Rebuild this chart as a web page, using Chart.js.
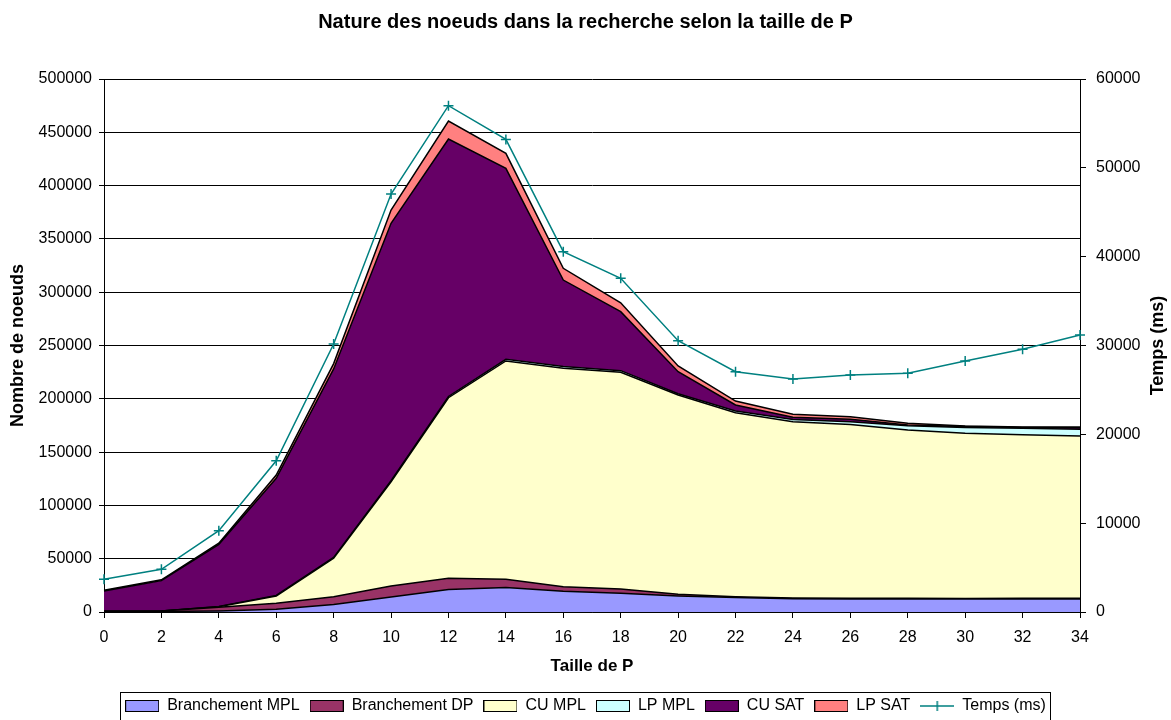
<!DOCTYPE html>
<html>
<head>
<meta charset="utf-8">
<script src="https://cdn.jsdelivr.net/npm/chart.js@4/dist/chart.umd.min.js"></script>
<style>
  body { margin: 0; background: #fff; }
  #wrap { width: 1171px; height: 720px; }
</style>
</head>
<body>
<div id="wrap"><canvas id="chart" width="1171" height="720"></canvas></div>
<script>
// Taille de P
const categories = ['0', '2', '4', '6', '8', '10', '12', '14', '16', '18', '20', '22', '24', '26', '28', '30', '32', '34'];

// nombre de noeuds (empiles)
const branchementMPL = [200, 500, 1000, 2500, 7000, 14000, 21000, 23000, 19500, 17500, 15000, 13500, 12500, 12300, 12200, 12200, 12300, 12300];
const branchementDP = [500, 500, 3400, 5700, 7400, 10400, 10600, 7700, 4200, 4100, 1600, 800, 600, 700, 600, 500, 500, 600];
const cuMPL = [0, 0, 600, 6800, 36000, 97800, 169400, 204800, 204900, 203300, 187000, 172700, 165400, 163000, 157900, 154900, 153500, 152200];
const lpMPL = [0, 0, 200, 500, 800, 1000, 1200, 1500, 1800, 1500, 1200, 1500, 2000, 2500, 4000, 5500, 6000, 6300];
const cuSAT = [19000, 28400, 58300, 109900, 176800, 241400, 241500, 179200, 81000, 55300, 20600, 5700, 2100, 2300, 800, 900, 700, 1400];
const lpSAT = [800, 800, 1000, 3100, 5000, 12500, 16900, 14100, 11000, 8400, 5400, 3700, 2900, 2400, 1500, 500, 600, 800];

// temps en ms (axe de droite)
const temps = [3680, 4800, 9150, 17030, 30170, 47050, 57000, 53200, 40560, 37560, 30540, 27050, 26230, 26680, 26870, 28250, 29570, 31180];

const leftTicks = { max: 500000, step: 50000 };
const rightTicks = { max: 60000, step: 10000 };

const FONT = "'Liberation Sans', Arial, sans-serif";
const teal = '#008080';

function area(label, data, color, fill) {
    return {
        label: label,
        data: data,
        backgroundColor: color,
        borderColor: '#000',
        borderWidth: 1.5,
        fill: fill,
        pointRadius: 0,
        pointHoverRadius: 0,
        tension: 0,
        yAxisID: 'y'
    };
}

// little pictures for the legend
function boxIcon(color) {
    const c = document.createElement('canvas');
    c.width = 34; c.height = 12;
    const g = c.getContext('2d');
    g.fillStyle = color;
    g.fillRect(1, 1, 32, 10);
    g.strokeStyle = '#000';
    g.lineWidth = 1;
    g.strokeRect(0.5, 0.5, 33, 11);
    return c;
}
function lineIcon(color) {
    const c = document.createElement('canvas');
    c.width = 34; c.height = 12;
    const g = c.getContext('2d');
    g.strokeStyle = color;
    g.lineWidth = 1.5;
    g.beginPath();
    g.moveTo(0, 6); g.lineTo(34, 6);
    g.moveTo(17, 1); g.lineTo(17, 11);
    g.stroke();
    return c;
}

const extras = {
    id: 'extras',
    afterDraw(chart) {
        const ctx = chart.ctx;
        // right axis title, reading upwards
        ctx.save();
        ctx.translate(1158, 345.5);
        ctx.rotate(-Math.PI / 2);
        ctx.font = 'bold 18px ' + FONT;
        ctx.fillStyle = '#000';
        ctx.textAlign = 'center';
        ctx.textBaseline = 'middle';
        ctx.fillText('Temps (ms)', 0, 0);
        ctx.restore();

        // frame around the legend
        const boxes = chart.legend.legendHitBoxes;
        if (boxes && boxes.length) {
            const left = Math.min(...boxes.map(b => b.left)) - 5;
            const right = Math.max(...boxes.map(b => b.left + b.width)) + 4;
            const top = Math.min(...boxes.map(b => b.top)) - 6;
            const bottom = Math.max(...boxes.map(b => b.top + b.height)) + 6;
            ctx.save();
            ctx.strokeStyle = '#000';
            ctx.lineWidth = 1;
            ctx.strokeRect(Math.round(left) + 0.5, Math.round(top) + 0.5, Math.round(right - left), Math.round(bottom - top));
            ctx.restore();
        }
    }
};

const datasets = [
    area('Branchement MPL', branchementMPL, '#9999FF', 'origin'),
    area('Branchement DP', branchementDP, '#993366', '-1'),
    area('CU MPL', cuMPL, '#FFFFCC', '-1'),
    area('LP MPL', lpMPL, '#CCFFFF', '-1'),
    area('CU SAT', cuSAT, '#660066', '-1'),
    area('LP SAT', lpSAT, '#FF8080', '-1'),
    {
        label: 'Temps (ms)',
        data: temps,
        borderColor: teal,
        backgroundColor: teal,
        borderWidth: 1.5,
        fill: false,
        tension: 0,
        pointStyle: 'cross',
        pointRadius: 5,
        pointBorderWidth: 1.5,
        pointBorderColor: teal,
        yAxisID: 'y1',
        order: -1
    }
];

new Chart(document.getElementById('chart'), {
    type: 'line',
    data: { labels: categories, datasets: datasets },
    options: {
        responsive: false,
        animation: false,
        layout: { padding: { left: 0, right: 0, top: 0, bottom: -4 } },
        plugins: {
            title: {
                display: true,
                text: 'Nature des noeuds dans la recherche selon la taille de P',
                color: '#000',
                font: { family: FONT, size: 20, weight: 'bold' },
                padding: { top: 10, bottom: 45 }
            },
            legend: {
                position: 'bottom',
                labels: {
                    color: '#000',
                    font: { family: FONT, size: 16 },
                    usePointStyle: true,
                    pointStyleWidth: 34,
                    padding: 10,
                    generateLabels(chart) {
                        return chart.data.datasets.map((ds, i) => ({
                            text: ds.label,
                            pointStyle: ds.yAxisID === 'y1' ? lineIcon(ds.borderColor) : boxIcon(ds.backgroundColor),
                            fillStyle: ds.backgroundColor,
                            strokeStyle: '#000',
                            lineWidth: 0,
                            fontColor: '#000',
                            hidden: false,
                            datasetIndex: i
                        }));
                    }
                }
            },
            tooltip: { enabled: false }
        },
        scales: {
            x: {
                offset: false,
                grid: { display: true, drawOnChartArea: false, color: '#000', tickLength: 6 },
                border: { color: '#000', width: 1 },
                ticks: { color: '#000', font: { family: FONT, size: 16 }, padding: 10, maxRotation: 0, autoSkip: false },
                title: {
                    display: true,
                    text: 'Taille de P',
                    color: '#000',
                    font: { family: FONT, size: 17, weight: 'bold' },
                    padding: { top: 0, bottom: 11.8 }
                },
                afterFit(s) { s.height = 76; }
            },
            y: {
                position: 'left',
                stacked: true,
                min: 0,
                max: leftTicks.max,
                grid: { color: '#000', lineWidth: 1, tickLength: 5 },
                border: { color: '#000', width: 1 },
                ticks: {
                    stepSize: leftTicks.step,
                    color: '#000',
                    font: { family: FONT, size: 16 },
                    padding: 7,
                    callback: v => String(v)
                },
                title: {
                    display: true,
                    text: 'Nombre de noeuds',
                    color: '#000',
                    font: { family: FONT, size: 18, weight: 'bold' },
                    padding: { top: 7.2, bottom: 0 }
                },
                afterFit(s) { s.width = 104; }
            },
            y1: {
                position: 'right',
                min: 0,
                max: rightTicks.max,
                grid: { drawOnChartArea: false, color: '#000', tickLength: 6 },
                border: { color: '#000', width: 1 },
                ticks: {
                    stepSize: rightTicks.step,
                    color: '#000',
                    font: { family: FONT, size: 16 },
                    padding: 10,
                    callback: v => String(v)
                },
                afterFit(s) { s.width = 91; }
            }
        }
    },
    plugins: [extras]
});
</script>
</body>
</html>
